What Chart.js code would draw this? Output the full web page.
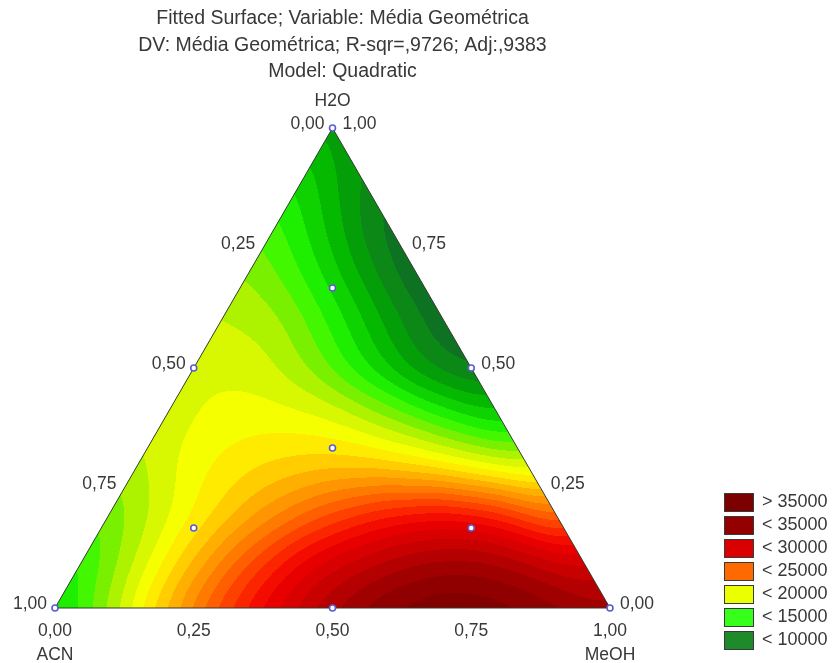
<!DOCTYPE html>
<html><head><meta charset="utf-8">
<script src="https://cdn.jsdelivr.net/npm/chart.js@4/dist/chart.umd.min.js"></script>
<style>html,body{margin:0;padding:0;background:#fff}canvas{display:block}</style>
</head><body>
<canvas id="c" width="837" height="663"></canvas>
<script>
// ---- Texts ----
const titleLines = [
  'Fitted Surface; Variable: Média Geométrica',
  'DV: Média Geométrica; R-sqr=,9726; Adj:,9383',
  'Model: Quadratic'
];
const componentNames = ['ACN', 'MeOH', 'H2O'];
const tickValues = [0, 0.25, 0.5, 0.75, 1];
const tickLabels = ['0,00', '0,25', '0,50', '0,75', '1,00'];

// ---- Legend ----
const legendLabels = ['> 35000', '< 35000', '< 30000', '< 25000', '< 20000', '< 15000', '< 10000'];
const legendColors = ['#7d0000', '#940000', '#da0000', '#ff6a00', '#eaff00', '#36ff1c', '#1f8a2a'];

// ---- Design points (mixture fractions) ----
const designACN  = [1, 0, 0, 0.5, 0.5, 0,   1/3, 2/3, 1/6, 1/6];
const designMeOH = [0, 1, 0, 0.5, 0,   0.5, 1/3, 1/6, 2/3, 1/6];
const designH2O  = [0, 0, 1, 0,   0.5, 0.5, 1/3, 1/6, 1/6, 2/3];

// ---- Fitted surface read on a 0.1 lattice: row = H2O fraction, entries by MeOH = 0, 0.1, ... ----
const surfaceH2O_00 = [13000, 17500, 22500, 27000, 30500, 33500, 35500, 36500, 36000, 35000, 33500];
const surfaceH2O_01 = [14500, 18000, 22000, 26000, 29500, 31500, 33000, 33500, 32500, 30000];
const surfaceH2O_02 = [16000, 18500, 21000, 23500, 26000, 28000, 29000, 28000, 23500];
const surfaceH2O_03 = [17500, 19800, 20800, 21300, 21300, 20300, 18700, 16800];
const surfaceH2O_04 = [18300, 19300, 19500, 19000, 17000, 14800, 12500];
const surfaceH2O_05 = [18800, 18800, 17000, 14000, 11000, 9000];
const surfaceH2O_06 = [18000, 17500, 14800, 11800, 8800];
const surfaceH2O_07 = [17000, 14800, 11800, 8500];
const surfaceH2O_08 = [15500, 12500, 9000];
const surfaceH2O_09 = [14000, 10500];
const surfaceH2O_10 = [11500];
const surfaceRows = [surfaceH2O_00, surfaceH2O_01, surfaceH2O_02, surfaceH2O_03, surfaceH2O_04,
  surfaceH2O_05, surfaceH2O_06, surfaceH2O_07, surfaceH2O_08, surfaceH2O_09, surfaceH2O_10];

// ---- Colour ramp ----
const rampValues = [7000, 8500, 10000, 12000, 14000, 15000, 16500, 18000, 19500, 20500, 22500, 25000, 27000, 29000, 31500, 34000, 36000, 38000];
const rampColors = [[8,80,45],[10,95,45],[15,125,30],[0,170,0],[20,225,0],[40,250,0],[120,240,0],[200,245,0],[245,255,0],[255,235,0],[255,175,0],[255,110,0],[255,50,0],[240,0,0],[200,0,0],[150,0,0],[125,0,0],[110,0,0]];
const bandStep = 1000;

const S3 = Math.sqrt(3) / 2;
const N = surfaceRows.length - 1;
function toXY(a, m, w) { return { x: m + w / 2, y: w * S3 }; }

const nodes = [];
surfaceRows.forEach((row, i) => row.forEach((v, j) => {
  const w = i / N, m = j / N;
  const p = toXY(1 - w - m, m, w);
  nodes.push([p.x, p.y, v]);
}));
const sigma = 0.055, inv2s2 = 1 / (2 * sigma * sigma);
function surfaceAt(px, py) {
  let sw = 0, sv = 0;
  for (let k = 0; k < nodes.length; k++) {
    const dx = px - nodes[k][0], dy = py - nodes[k][1];
    const d2 = dx * dx + dy * dy;
    if (d2 > 0.09) continue;
    const wt = Math.exp(-d2 * inv2s2);
    sw += wt; sv += wt * nodes[k][2];
  }
  return sv / sw;
}
function colourFor(v) {
  v = Math.floor(v / bandStep) * bandStep + bandStep / 2;
  if (v <= rampValues[0]) return rampColors[0];
  for (let k = 1; k < rampValues.length; k++) {
    if (v <= rampValues[k]) {
      const t = (v - rampValues[k - 1]) / (rampValues[k] - rampValues[k - 1]);
      const a = rampColors[k - 1], b = rampColors[k];
      return [a[0] + (b[0] - a[0]) * t, a[1] + (b[1] - a[1]) * t, a[2] + (b[2] - a[2]) * t];
    }
  }
  return rampColors[rampColors.length - 1];
}

const designData = designACN.map((a, k) => toXY(a, designMeOH[k], designH2O[k]));

const surfacePlugin = {
  id: 'surface',
  beforeDatasetsDraw(chart) {
    const { ctx, chartArea: ca, scales: { x, y } } = chart;
    const L = Math.floor(ca.left) - 1, T = Math.floor(ca.top) - 1;
    const Wd = Math.ceil(ca.right) - L + 2, Ht = Math.ceil(ca.bottom) - T + 2;
    const off = document.createElement('canvas');
    off.width = Wd; off.height = Ht;
    const octx = off.getContext('2d');
    const img = octx.createImageData(Wd, Ht);
    const d = img.data;
    for (let py = 0; py < Ht; py++) {
      const yv = y.getValueForPixel(T + py + 0.5);
      const w = yv / S3;
      for (let px = 0; px < Wd; px++) {
        const xv = x.getValueForPixel(L + px + 0.5);
        const m = xv - w / 2, a = 1 - m - w;
        if (a < -0.004 || m < -0.004 || w < -0.004) continue;
        const c = colourFor(surfaceAt(xv, yv));
        const o = (py * Wd + px) * 4;
        d[o] = c[0]; d[o + 1] = c[1]; d[o + 2] = c[2]; d[o + 3] = 255;
      }
    }
    octx.putImageData(img, 0, 0);
    ctx.save();
    const p0 = { x: x.getPixelForValue(0), y: y.getPixelForValue(0) };
    const p1 = { x: x.getPixelForValue(1), y: y.getPixelForValue(0) };
    const p2 = { x: x.getPixelForValue(0.5), y: y.getPixelForValue(S3) };
    ctx.beginPath(); ctx.moveTo(p0.x, p0.y); ctx.lineTo(p1.x, p1.y); ctx.lineTo(p2.x, p2.y); ctx.closePath();
    ctx.save(); ctx.clip(); ctx.drawImage(off, L, T); ctx.restore();
    ctx.strokeStyle = '#2f3a2f'; ctx.lineWidth = 1;
    ctx.stroke();
    ctx.restore();
  }
};

const textPlugin = {
  id: 'texts',
  afterDraw(chart) {
    const { ctx, scales: { x, y } } = chart;
    const pix = (a, m, w) => { const p = toXY(a, m, w); return { x: x.getPixelForValue(p.x), y: y.getPixelForValue(p.y) }; };
    ctx.save();
    ctx.fillStyle = '#383838';
    ctx.textBaseline = 'middle';
    ctx.font = '19.5px "Liberation Sans", Arial, sans-serif';
    ctx.textAlign = 'center';
    const tx = x.getPixelForValue(0.5) + 10;
    titleLines.forEach((t, k) => ctx.fillText(t, tx, 19 + k * 26.5));
    ctx.font = '17.5px "Liberation Sans", Arial, sans-serif';
    const top = pix(0, 0, 1), bl = pix(1, 0, 0), br = pix(0, 1, 0);
    ctx.textAlign = 'center';
    ctx.fillText(componentNames[2], top.x, top.y - 27);
    ctx.fillText(componentNames[0], bl.x, bl.y + 47);
    ctx.fillText(componentNames[1], br.x, br.y + 47);
    ctx.textAlign = 'right';
    tickValues.forEach((v, k) => { const p = pix(v, 0, 1 - v); ctx.fillText(tickLabels[k], p.x - 8, p.y - 4); });
    ctx.textAlign = 'left';
    tickValues.forEach((v, k) => { const p = pix(0, 1 - v, v); ctx.fillText(tickLabels[k], p.x + 10, p.y - 4); });
    ctx.textAlign = 'center';
    tickValues.forEach((v, k) => { const p = pix(1 - v, v, 0); ctx.fillText(tickLabels[k], p.x, p.y + 23); });
    ctx.font = '18px "Liberation Sans", Arial, sans-serif';
    ctx.textAlign = 'left';
    legendLabels.forEach((lab, k) => {
      const cy = 502 + k * 23;
      ctx.fillStyle = legendColors[k];
      ctx.fillRect(724, cy - 9, 29, 18);
      ctx.strokeStyle = '#3a3a3a'; ctx.lineWidth = 1;
      ctx.strokeRect(724.5, cy - 8.5, 29, 18);
      ctx.fillStyle = '#383838';
      ctx.fillText(lab, 762, cy);
    });
    ctx.restore();
  }
};

new Chart(document.getElementById('c'), {
  type: 'scatter',
  data: {
    datasets: [{
      data: designData,
      clip: false,
      pointRadius: 3,
      pointBackgroundColor: '#ffffff',
      pointBorderColor: '#5b5bd6',
      pointBorderWidth: 1.6
    }]
  },
  options: {
    responsive: false,
    animation: false,
    events: [],
    layout: { padding: { left: 55, right: 227, top: 128, bottom: 55 } },
    scales: {
      x: { type: 'linear', min: 0, max: 1, display: false },
      y: { type: 'linear', min: 0, max: S3, display: false }
    },
    plugins: { legend: { display: false }, tooltip: { enabled: false }, title: { display: false } }
  },
  plugins: [surfacePlugin, textPlugin]
});
</script>
</body></html>
